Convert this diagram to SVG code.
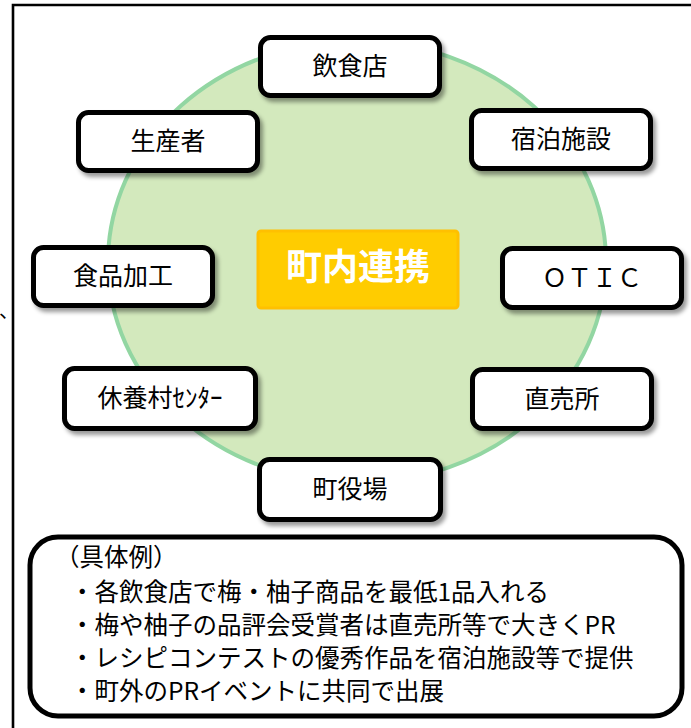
<svg xmlns="http://www.w3.org/2000/svg" width="691" height="728" viewBox="0 0 691 728">
  <style>
    .t { font-family: "Noto Sans CJK JP", "Noto Sans", sans-serif; fill: #000; }
    .node rect { fill: #fff; stroke: #000; stroke-width: 5; filter: url(#sh); }
    .nt { font-size: 25px; text-anchor: middle; }
    .ex { font-size: 24.5px; }
  </style>
  <defs>
    <filter id="sh" x="-20%" y="-30%" width="150%" height="170%">
      <feDropShadow dx="3" dy="4" stdDeviation="2.2" flood-color="#000" flood-opacity="0.4"/>
    </filter>
  </defs>
  <rect width="691" height="728" fill="#fff"/>
  <!-- outer frame -->
  <path d="M13 728 V5 H691" fill="none" stroke="#000" stroke-width="2.6"/>
  <text class="t" x="-1" y="318" font-size="20">、</text>

  <!-- background circle -->
  <ellipse cx="357" cy="262" rx="249" ry="221" fill="#d3e9bd" stroke="#92d6a2" stroke-width="4"/>

  <!-- center -->
  <g id="center">
    <rect x="258" y="231" width="200" height="77" rx="3" fill="#ffcc00" stroke="#ffc000" stroke-width="3"/>
    <text class="t" x="358" y="280" font-size="36" font-weight="bold" text-anchor="middle" style="fill:#fff">町内連携</text>
  </g>

  <g id="n-inshokuten" class="node">
    <rect x="260.5" y="37.5" width="179" height="58" rx="10"/>
    <text class="t nt" x="350" y="75">飲食店</text>
  </g>
  <g id="n-seisansha" class="node">
    <rect x="78.5" y="112.5" width="179" height="58" rx="10"/>
    <text class="t nt" x="168" y="150">生産者</text>
  </g>
  <g id="n-shukuhaku" class="node">
    <rect x="471.5" y="110.5" width="179" height="58" rx="10"/>
    <text class="t nt" x="561" y="148">宿泊施設</text>
  </g>
  <g id="n-shokuhin" class="node">
    <rect x="33.5" y="247.5" width="179" height="58" rx="10"/>
    <text class="t nt" x="123" y="285">食品加工</text>
  </g>
  <g id="n-otic" class="node">
    <rect x="502.5" y="248.5" width="179" height="59" rx="10"/>
    <text class="t nt" x="592" y="287">ＯＴＩＣ</text>
  </g>
  <g id="n-kyuyoson" class="node">
    <rect x="64.5" y="368.5" width="191" height="60" rx="10"/>
    <text class="t nt" x="160" y="407">休養村ｾﾝﾀｰ</text>
  </g>
  <g id="n-chokubaisho" class="node">
    <rect x="472.5" y="369.5" width="179" height="59" rx="10"/>
    <text class="t nt" x="562" y="408">直売所</text>
  </g>
  <g id="n-yakuba" class="node">
    <rect x="259.5" y="459.5" width="181" height="60" rx="10"/>
    <text class="t nt" x="350" y="498">町役場</text>
  </g>

  <g id="connectors"></g>

  <!-- examples box -->
  <g id="examples">
    <rect x="30" y="537" width="652" height="179" rx="28" fill="#fff" stroke="#000" stroke-width="5"/>
    <text class="t ex" x="55" y="566">（具体例）</text>
    <text class="t ex" x="70" y="601">・各飲食店で梅・柚子商品を最低1品入れる</text>
    <text class="t ex" x="70" y="634">・梅や柚子の品評会受賞者は直売所等で大きくPR</text>
    <text class="t ex" x="70" y="667">・レシピコンテストの優秀作品を宿泊施設等で提供</text>
    <text class="t ex" x="70" y="700">・町外のPRイベントに共同で出展</text>
  </g>
</svg>
